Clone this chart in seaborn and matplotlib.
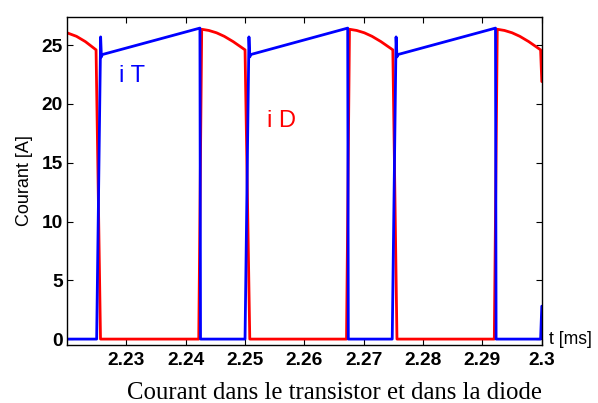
import numpy as np
import pandas as pd
import matplotlib
matplotlib.use("Agg")
import matplotlib.pyplot as plt
import seaborn as sns

# -------------------------
# DATA
# -------------------------
# transistor current i T
t_T = [2.2200, 2.2250, 2.22567, 2.2258, 2.22595, 2.2424, 2.2425,
       2.2500, 2.25066, 2.2508, 2.25095, 2.2673, 2.2674,
       2.2748, 2.27545, 2.2756, 2.27575, 2.2922, 2.2923,
       2.2998, 2.3000]
i_T = [0.0, 0.0, 25.7, 24.0, 24.2, 26.45, 0.0,
       0.0, 25.7, 24.0, 24.2, 26.45, 0.0,
       0.0, 25.7, 24.0, 24.2, 26.45, 0.0,
       0.0, 2.8]

# diode current i D
t_D = [2.2200, 2.2216, 2.2231, 2.2249, 2.22565, 2.2422, 2.2427, 2.2439, 2.2452,
       2.2465, 2.2480, 2.2500, 2.2508, 2.2671, 2.2676, 2.2688, 2.2701, 2.2714,
       2.2729, 2.2749, 2.2756, 2.2920, 2.2925, 2.2937, 2.2950, 2.2963, 2.2978,
       2.2998, 2.3000]
i_D = [26.05, 25.75, 25.3, 24.6, 0.0, 0.0, 26.35, 26.25, 26.05,
       25.75, 25.3, 24.6, 0.0, 0.0, 26.35, 26.25, 26.05, 25.75,
       25.3, 24.6, 0.0, 0.0, 26.35, 26.25, 26.05, 25.75, 25.3,
       24.6, 21.9]

x_ticks = [2.23, 2.24, 2.25, 2.26, 2.27, 2.28, 2.29, 2.30]
x_tick_labels = ["2.23", "2.24", "2.25", "2.26", "2.27", "2.28", "2.29", "2.3"]
y_ticks = [0, 5, 10, 15, 20, 25]

# -------------------------
# STYLE
# -------------------------
sns.set_style("ticks")
plt.rcParams['font.family'] = ['Liberation Sans', 'DejaVu Sans']
plt.rcParams['text.color'] = 'black'
plt.rcParams['axes.labelcolor'] = 'black'

fig = plt.figure(figsize=(5.98, 4.03), dpi=100)
ax = fig.add_axes([0.112, 0.144, 0.794, 0.814])

df_D = pd.DataFrame({"t": t_D, "i": i_D})
df_T = pd.DataFrame({"t": t_T, "i": i_T})
sns.lineplot(data=df_D, x="t", y="i", color=(1, 0, 0), linewidth=2.0,
             estimator=None, sort=False, ax=ax)
sns.lineplot(data=df_T, x="t", y="i", color=(0, 0, 1), linewidth=2.0,
             estimator=None, sort=False, ax=ax)

ax.set_xlim(2.22, 2.30)
ax.set_ylim(-0.5, 27.4)
ax.set_xticks(x_ticks)
ax.set_xticklabels(x_tick_labels)
ax.set_yticks(y_ticks)

for lab in ax.get_xticklabels() + ax.get_yticklabels():
    lab.set_fontweight("bold")
    lab.set_fontsize(13.8)

ax.tick_params(direction="in", length=4, width=0.8, top=True, right=True,
               colors="black")
ax.tick_params(axis="x", pad=5)
ax.tick_params(axis="y", pad=3)
for sp in ax.spines.values():
    sp.set_visible(True)
    sp.set_linewidth(1.0)
    sp.set_color("black")

ax.set_xlabel("")
ax.set_ylabel("Courant [A]", fontsize=13, color="black")
ax.yaxis.set_label_coords(-0.072, 0.5)

# curve labels and axis unit
ax.text(2.22876, 22.34, "i T", color=(0, 0, 1), fontsize=17, ha="left", va="center")
ax.text(2.25369, 18.55, "i D", color=(1, 0, 0), fontsize=17, ha="left", va="center")
ax.text(1.015, 0.0, "t [ms]", transform=ax.get_yaxis_transform(),
        fontsize=12.7, ha="left", va="center", color="black")

# caption below the plot
fig.text(0.5585, 0.009, "Courant dans le transistor et dans la diode",
         family=["Liberation Serif", "DejaVu Serif"], fontsize=17.8,
         ha="center", va="baseline", color="black")

fig.savefig("out.png", dpi=100)
